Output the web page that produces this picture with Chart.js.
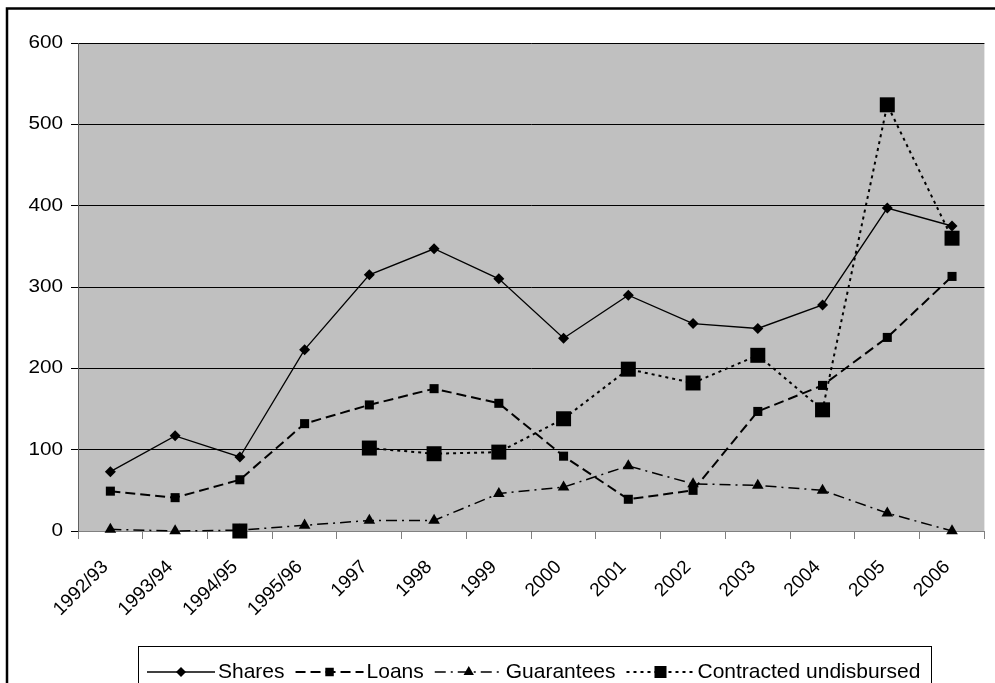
<!DOCTYPE html>
<html>
<head>
<meta charset="utf-8">
<script src="https://cdn.jsdelivr.net/npm/chart.js@4.4.1/dist/chart.umd.min.js"></script>
<style>
  html, body { margin: 0; padding: 0; background: #fff; overflow: hidden; }
  canvas { display: block; }
</style>
</head>
<body>
<canvas id="c" width="995" height="683"></canvas>
<script>
// Financing by instrument, 1992/93 - 2006
const categories = ['1992/93', '1993/94', '1994/95', '1995/96', '1997', '1998', '1999',
                    '2000', '2001', '2002', '2003', '2004', '2005', '2006'];
const shares      = [73, 117, 91, 223, 315, 347, 310, 237, 290, 255, 249, 278, 397, 375];
const loans       = [49, 41, 63, 132, 155, 175, 157, 92, 39, 50, 147, 179, 238, 313];
const guarantees  = [2, 0, 1, 7, 13, 13, 46, 54, 80, 58, 56, 50, 22, 0];
const contracted  = [null, null, 0, null, 102, 95, 97, 138, 199, 182, 216, 149, 524, 360];
const yMin = 0, yMax = 600, yStep = 100;

const FONT = '"Liberation Sans", Arial, Helvetica, sans-serif';

// draw text with optional horizontal widening and rotation (radians)
function drawText(ctx, text, x, y, angle, align, size, widen) {
  ctx.save();
  ctx.translate(x, y);
  if (widen && widen !== 1) ctx.scale(widen, 1);
  if (angle) ctx.rotate(angle);
  ctx.font = size + 'px ' + FONT;
  ctx.fillStyle = '#000';
  ctx.textAlign = align;
  ctx.textBaseline = 'middle';
  ctx.fillText(text, 0, 0);
  ctx.restore();
}

function marker(ctx, style, x, y, r) {
  ctx.beginPath();
  if (style === 'rectRot') {
    ctx.moveTo(x, y - r); ctx.lineTo(x + r, y); ctx.lineTo(x, y + r); ctx.lineTo(x - r, y);
  } else if (style === 'triangle') {
    ctx.moveTo(x, y - r); ctx.lineTo(x + r * 0.866, y + r * 0.5); ctx.lineTo(x - r * 0.866, y + r * 0.5);
  } else {
    const s = r * Math.SQRT1_2;
    ctx.rect(x - s, y - s, 2 * s, 2 * s);
  }
  ctx.closePath();
  ctx.fill();
}

const legendRadius = { 'Shares': 5, 'Loans': 6, 'Guarantees': 6, 'Contracted undisbursed': 8.5 };
const LEGEND_FONT = 21;

const decorations = {
  id: 'decorations',
  beforeDraw(chart) {
    const { ctx, chartArea: a } = chart;
    ctx.save();
    ctx.fillStyle = '#fff';
    ctx.fillRect(0, 0, chart.width, chart.height);
    ctx.fillStyle = '#c0c0c0';
    ctx.fillRect(a.left, a.top, a.right - a.left, a.bottom - a.top);
    // outer chart frame
    ctx.strokeStyle = '#000';
    ctx.lineWidth = 2.5;
    ctx.strokeRect(7, 8.5, chart.width + 40, chart.height + 40);
    ctx.restore();
  },
  afterDraw(chart) {
    const { ctx } = chart;
    const xs = chart.scales.x, ys = chart.scales.y;
    // value axis labels
    ys.ticks.forEach(t => {
      drawText(ctx, String(t.value), 63, ys.getPixelForValue(t.value), 0, 'right', 18, 1.15);
    });
    // category labels, rotated
    categories.forEach((c, i) => {
      drawText(ctx, c, xs.getPixelForValue(i) - 5, ys.bottom + 33, -Math.PI / 4, 'right', 19, 1);
    });
    // legend
    ctx.save();
    ctx.strokeStyle = '#000';
    ctx.lineWidth = 1;
    ctx.strokeRect(138.5, 646.5, 793, 120);
    const ly = 672;
    let lx = 147;
    chart.data.datasets.forEach(ds => {
      ctx.save();
      ctx.strokeStyle = '#000';
      ctx.lineWidth = ds.borderWidth;
      ctx.setLineDash(ds.borderDash || []);
      ctx.beginPath();
      ctx.moveTo(lx, ly);
      ctx.lineTo(lx + 68, ly);
      ctx.stroke();
      ctx.setLineDash([]);
      ctx.fillStyle = '#000';
      marker(ctx, ds.pointStyle, lx + 34, ly, legendRadius[ds.label]);
      ctx.restore();
      drawText(ctx, ds.label, lx + 71, ly, 0, 'left', LEGEND_FONT, 1);
      ctx.font = LEGEND_FONT + 'px ' + FONT;
      lx += 71 + ctx.measureText(ds.label).width + 11;
    });
    ctx.restore();
  }
};

const common = {
  borderColor: '#000',
  backgroundColor: '#000',
  pointBackgroundColor: '#000',
  pointBorderColor: '#000',
  pointBorderWidth: 0,
  pointHoverRadius: 0,
  tension: 0,
  fill: false,
  clip: false,
  spanGaps: false
};

new Chart(document.getElementById('c'), {
  type: 'line',
  data: {
    labels: categories,
    datasets: [
      Object.assign({}, common, { label: 'Shares', data: shares, borderWidth: 1.3,
        pointStyle: 'rectRot', pointRadius: 5.5, order: 3 }),
      Object.assign({}, common, { label: 'Loans', data: loans, borderWidth: 2,
        borderDash: [10, 5], pointStyle: 'rect', pointRadius: 6.4, order: 2 }),
      Object.assign({}, common, { label: 'Guarantees', data: guarantees, borderWidth: 1.5,
        borderDash: [11, 5, 2, 5], pointStyle: 'triangle', pointRadius: 6.7, order: 1 }),
      Object.assign({}, common, { label: 'Contracted undisbursed', data: contracted, borderWidth: 2,
        borderDash: [3, 4], pointStyle: 'rect', pointRadius: 10.6, order: 0 })
    ]
  },
  options: {
    responsive: false,
    animation: false,
    devicePixelRatio: 1,
    layout: { padding: { top: 43, left: 0, right: 1, bottom: 0 } },
    plugins: { legend: { display: false }, tooltip: { enabled: false } },
    events: [],
    scales: {
      x: {
        type: 'category',
        offset: true,
        grid: { offset: true, drawOnChartArea: false, drawTicks: true, tickLength: 8,
                tickColor: '#808080', color: '#808080', lineWidth: 1 },
        border: { color: '#808080', width: 1 },
        ticks: { display: false },
        afterFit(s) { s.height = 152; }
      },
      y: {
        min: yMin, max: yMax,
        ticks: { stepSize: yStep, display: false },
        grid: { color: '#000', tickColor: '#000', tickLength: 7, lineWidth: 1 },
        border: { color: '#606060', width: 1 },
        afterFit(s) { s.width = 78; }
      }
    }
  },
  plugins: [decorations]
});
</script>
</body>
</html>
